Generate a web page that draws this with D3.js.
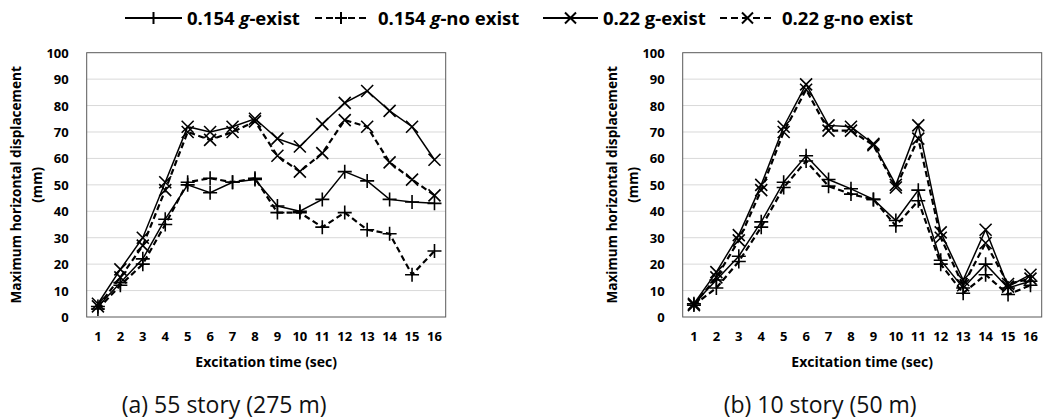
<!DOCTYPE html>
<html>
<head>
<meta charset="utf-8">
<script src="https://cdn.jsdelivr.net/npm/d3@7/dist/d3.min.js"></script>
<style>
  html, body { margin: 0; padding: 0; background: #fff; }
  svg { display: block; }
  .bold { font-family: "Open Sans", "Noto Sans", sans-serif; font-weight: 700; fill: #000; }
  .caption { font-family: "Open Sans", "Noto Sans", sans-serif; font-weight: 400; fill: #111; }
</style>
</head>
<body>
<svg id="chart" width="1057" height="420"></svg>
<script>
// Excitation time categories (sec)
const times = [1, 2, 3, 4, 5, 6, 7, 8, 9, 10, 11, 12, 13, 14, 15, 16];
const yTicks = [0, 10, 20, 30, 40, 50, 60, 70, 80, 90, 100];

// Legend / series names
const seriesNames = ["0.154 g-exist", "0.154 g-no exist", "0.22 g-exist", "0.22 g-no exist"];

// (a) 55 story (275 m) — maximum horizontal displacement (mm)
const a_154_exist   = [4, 13, 22, 37, 50, 47, 51, 52, 42, 40, 44.5, 55, 51.5, 44.5, 43.5, 43];
const a_154_noexist = [3, 12, 20, 35, 51, 52.5, 51, 52.5, 39.5, 39.5, 34, 39.5, 33, 31.5, 16, 25];
const a_22_exist    = [5, 18, 30, 51, 72, 70, 72, 75, 67.5, 64.5, 73, 81, 85.5, 78, 72, 59.5];
const a_22_noexist  = [4, 15, 27, 48, 70, 67, 70, 74, 61, 55, 62, 74.5, 72, 58.5, 52, 46];

// (b) 10 story (50 m) — maximum horizontal displacement (mm)
const b_154_exist   = [5, 14, 23, 36, 51, 61, 52, 48.5, 44.5, 36.5, 48, 21.5, 11, 20, 11, 13.5];
const b_154_noexist = [4.5, 11, 21, 34, 49, 59, 49.5, 46.5, 44.5, 34.5, 44, 20, 9, 16, 8.5, 12];
const b_22_exist    = [5, 17, 31, 50, 72, 88, 72.5, 72, 65.5, 50, 72.5, 32, 14, 33, 11.5, 16];
const b_22_noexist  = [4.5, 15, 29, 48, 70, 86, 70.5, 70.5, 65, 49, 67.5, 30, 12, 28, 12.5, 14.5];

const captions = ["(a) 55 story (275 m)", "(b) 10 story (50 m)"];
const xTitle = "Excitation time (sec)";
const yTitle = ["Maximum horizontal displacement", "(mm)"];

// series styling: marker type and dashed or solid
const styles = [
  { marker: "plus",  dashed: false },
  { marker: "plus",  dashed: true  },
  { marker: "times", dashed: false },
  { marker: "times", dashed: true  }
];

const svg = d3.select("#chart");

function markerPath(type, s) {
  const h = s / 2;
  if (type === "plus") return `M${-h},0L${h},0M0,${-h}L0,${h}`;
  return `M${-h},${-h}L${h},${h}M${-h},${h}L${h},${-h}`;
}

const plotTop = 52.7, plotBottom = 317, plotW = 359;

function drawPanel(left, seriesData, caption) {
  const g = svg.append("g");
  const x = d3.scaleBand().domain(times).range([left, left + plotW]).padding(0);
  const y = d3.scaleLinear().domain([0, 100]).range([plotBottom, plotTop]);
  const cx = d => x(d) + x.bandwidth() / 2;

  // horizontal gridlines
  g.append("g").selectAll("line").data(yTicks.slice(1, -1)).join("line")
    .attr("x1", left).attr("x2", left + plotW)
    .attr("y1", d => y(d)).attr("y2", d => y(d))
    .attr("stroke", "#d9d9d9").attr("stroke-width", 1);

  // plot border
  g.append("rect")
    .attr("x", left).attr("y", plotTop)
    .attr("width", plotW).attr("height", plotBottom - plotTop)
    .attr("fill", "none").attr("stroke", "#595959").attr("stroke-width", 1);

  // y axis labels
  const yAxis = d3.axisLeft(y).tickValues(yTicks).tickSize(0).tickPadding(18);
  const ya = g.append("g").attr("transform", `translate(${left},0)`).call(yAxis);
  ya.select(".domain").remove();
  ya.selectAll("text").attr("class", "bold").style("font-size", "13px").attr("dy", "0.35em");

  // x axis labels
  const xAxis = d3.axisBottom(x).tickSize(0).tickPadding(15);
  const xa = g.append("g").attr("transform", `translate(0,${plotBottom})`).call(xAxis);
  xa.select(".domain").remove();
  xa.selectAll("text").attr("class", "bold").style("font-size", "13px");

  // axis titles
  g.append("text").attr("class", "bold")
    .attr("x", left + plotW / 2).attr("y", 366.5)
    .attr("text-anchor", "middle").style("font-size", "14px")
    .text(xTitle);
  const midY = (plotTop + plotBottom) / 2;
  [[left - 70.5, yTitle[0]], [left - 49.5, yTitle[1]]].forEach(([tx, t]) => {
    g.append("text").attr("class", "bold")
      .attr("transform", `translate(${tx},${midY}) rotate(-90)`)
      .attr("text-anchor", "middle").attr("dy", "0.35em")
      .style("font-size", "13.6px")
      .text(t);
  });

  // series lines and markers
  const line = d3.line().x((d, i) => cx(times[i])).y(d => y(d));
  seriesData.forEach((vals, si) => {
    const st = styles[si];
    g.append("path").datum(vals)
      .attr("d", line)
      .attr("fill", "none").attr("stroke", "#000")
      .attr("stroke-width", st.dashed ? 2.2 : 1.5)
      .attr("stroke-dasharray", st.dashed ? "6,3.5" : null);
    g.append("g").selectAll("path").data(vals).join("path")
      .attr("transform", (d, i) => `translate(${cx(times[i])},${y(d)})`)
      .attr("d", markerPath(st.marker, st.marker === "plus" ? 14 : 12))
      .attr("fill", "none").attr("stroke", "#000").attr("stroke-width", 1.6);
  });

  // caption
  svg.append("text").attr("class", "caption")
    .attr("x", left + plotW / 2 - 42).attr("y", 413)
    .attr("text-anchor", "middle").style("font-size", "23px")
    .text(caption);
}

drawPanel(86.7, [a_154_exist, a_154_noexist, a_22_exist, a_22_noexist], captions[0]);
drawPanel(682.7, [b_154_exist, b_154_noexist, b_22_exist, b_22_noexist], captions[1]);

// legend across the top
const legendItems = [
  { x0: 125, x1: 182, tx: 187 },
  { x0: 315, x1: 367, tx: 378 },
  { x0: 543, x1: 598, tx: 603 },
  { x0: 720, x1: 775, tx: 782 }
];
const ly = 18;
const legend = svg.append("g");
legendItems.forEach((it, i) => {
  const st = styles[i];
  legend.append("line")
    .attr("x1", it.x0).attr("x2", it.x1).attr("y1", ly).attr("y2", ly)
    .attr("stroke", "#000").attr("stroke-width", st.dashed ? 2.2 : 2)
    .attr("stroke-dasharray", st.dashed ? "7,4" : null);
  legend.append("path")
    .attr("transform", `translate(${(it.x0 + it.x1) / 2},${ly})`)
    .attr("d", markerPath(st.marker, st.marker === "plus" ? 12 : 11))
    .attr("fill", "none").attr("stroke", "#000").attr("stroke-width", 2);
  const name = seriesNames[i];
  const t = legend.append("text").attr("class", "bold")
    .attr("x", it.tx).attr("y", ly).attr("dy", "0.36em")
    .style("font-size", "18.5px");
  const gi = name.indexOf("g");
  t.append("tspan").text(name.slice(0, gi));
  t.append("tspan").style("font-style", i < 2 ? "italic" : "normal").text("g");
  t.append("tspan").text(name.slice(gi + 1));
});
</script>
</body>
</html>
